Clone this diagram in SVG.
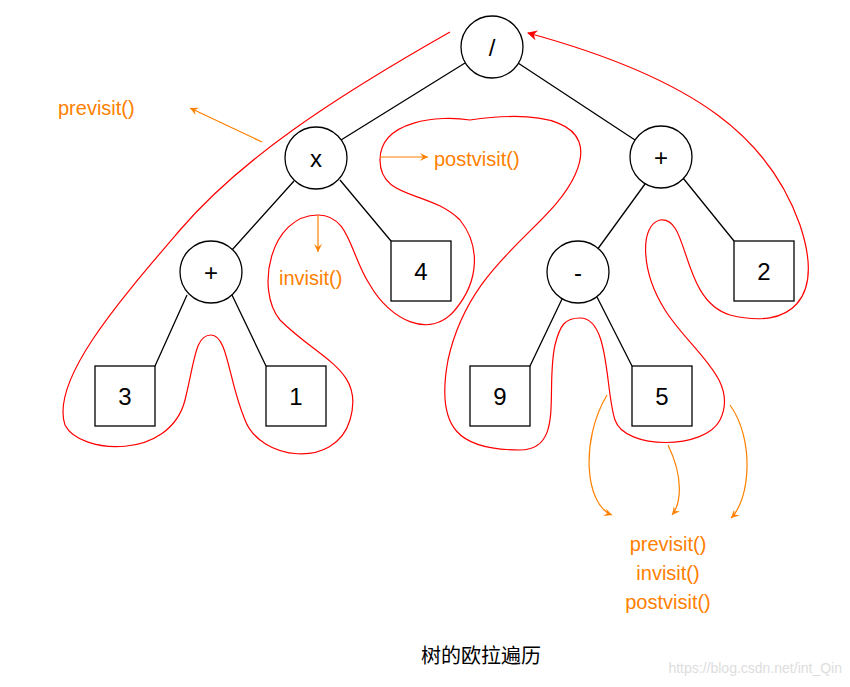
<svg xmlns="http://www.w3.org/2000/svg" width="850" height="687" viewBox="0 0 850 687">
<style>
.n{fill:#fff;stroke:#000;stroke-width:1.3}
.t{font-family:"Liberation Sans",Arial,sans-serif;font-size:24px;text-anchor:middle;fill:#000}
.o{font-family:"Liberation Sans",Arial,sans-serif;font-size:20px;fill:#FF8000}
.e{stroke:#000;stroke-width:1.3;fill:none}
.a{stroke:#FF8000;stroke-width:1.2;fill:none;marker-end:url(#ao)}
</style>
<defs>
<marker id="ao" markerWidth="10" markerHeight="10" refX="8" refY="5" orient="auto" markerUnits="userSpaceOnUse"><path d="M0,1 L8,5 L0,9 L3,5Z" fill="#FF8000"/></marker>
<marker id="ar" markerWidth="12" markerHeight="12" refX="9" refY="6" orient="auto" markerUnits="userSpaceOnUse"><path d="M0,1 L10,6 L0,11 L3,6Z" fill="#f00"/></marker>
</defs>
<rect width="850" height="687" fill="#fff"/>
<g id="edges">
<path class="e" d="M465,63L341,140M518,63L635,140M294,181L232,250M340,180L391,241M187,295L155,366M232,295L266,366M645,184L597,250M683,178L734,241M563,297L530,366M597,297L632,366"/>
</g>
<g id="euler">
<path fill="none" stroke="#f00" stroke-width="1.2" marker-end="url(#ar)" d="M450,32 C330,100 240,160 180,230 C120,300 50,380 65,425 C80,455 170,460 185,400 C195,360 195,335 211,335 C228,335 228,380 245,420 C260,460 335,470 350,420 C365,370 320,360 280,320 C255,290 270,215 318,215 C350,215 350,255 370,285 C390,320 430,340 455,310 C480,280 480,245 460,220 C430,190 380,200 380,160 C380,120 440,115 470,120 C540,110 600,120 575,175 C550,230 470,260 448,360 C435,430 460,450 520,450 C565,450 545,390 555,345 C560,325 565,318 580,318 C610,318 605,390 615,420 C625,450 705,450 720,420 C740,380 690,350 665,310 C640,270 640,225 660,220 C690,215 680,300 730,315 C790,330 825,300 800,225 C770,140 700,80 528,33"/>
</g>
<g id="n_div"><circle class="n" cx="492" cy="47" r="31"/><text class="t" x="492" y="56">/</text></g>
<g id="n_x"><circle class="n" cx="316" cy="158" r="31"/><text class="t" x="316" y="167">x</text></g>
<g id="n_plus1"><circle class="n" cx="661" cy="157" r="31"/><text class="t" x="661" y="166">+</text></g>
<g id="n_plus2"><circle class="n" cx="211" cy="272" r="31"/><text class="t" x="211" y="281">+</text></g>
<g id="n_minus"><circle class="n" cx="578" cy="272" r="31"/><text class="t" x="578" y="281">-</text></g>
<g id="n4"><rect class="n" x="391" y="241" width="60" height="60"/><text class="t" x="421" y="280">4</text></g>
<g id="n2"><rect class="n" x="734" y="241" width="60" height="60"/><text class="t" x="764" y="280">2</text></g>
<g id="n3"><rect class="n" x="95" y="366" width="60" height="60"/><text class="t" x="125" y="405">3</text></g>
<g id="n1"><rect class="n" x="266" y="366" width="60" height="60"/><text class="t" x="296" y="405">1</text></g>
<g id="n9"><rect class="n" x="470" y="366" width="60" height="60"/><text class="t" x="500" y="405">9</text></g>
<g id="n5"><rect class="n" x="632" y="366" width="60" height="60"/><text class="t" x="662" y="405">5</text></g>
<g id="labels">
<path class="a" d="M262,142L190,108"/>
<path class="a" d="M380,157L428,157"/>
<path class="a" d="M318,215L318,252"/>
<path class="a" d="M607,395C580,440 585,505 612,515"/>
<path class="a" d="M668,445C685,480 680,505 672,515"/>
<path class="a" d="M730,405C755,440 750,500 731,518"/>
<text class="o" x="58" y="115">previsit()</text>
<text class="o" x="434" y="166">postvisit()</text>
<text class="o" x="279" y="285">invisit()</text>
<text class="o" x="668" y="551" text-anchor="middle">previsit()</text>
<text class="o" x="668" y="580" text-anchor="middle">invisit()</text>
<text class="o" x="668" y="609" text-anchor="middle">postvisit()</text>
<text x="481" y="663" text-anchor="middle" font-family="'Noto Sans CJK SC',sans-serif" font-size="20" fill="#000">树的欧拉遍历</text>
<text x="842" y="673" text-anchor="end" font-family="'Liberation Sans',sans-serif" font-size="14" fill="#ddd">https://blog.csdn.net/int_Qin</text>
</g>
</svg>
